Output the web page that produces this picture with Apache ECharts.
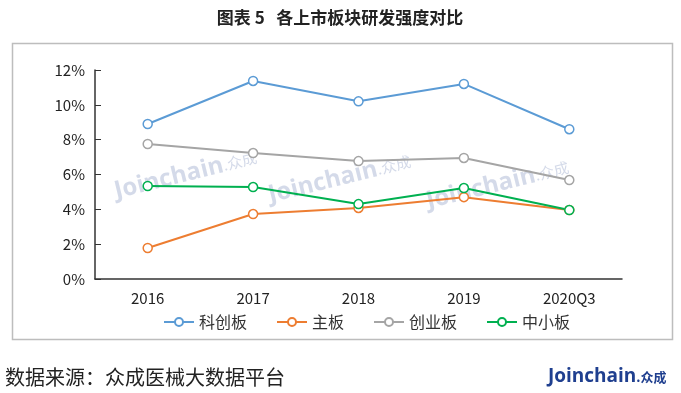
<!DOCTYPE html>
<html>
<head>
<meta charset="utf-8">
<script src="https://cdn.jsdelivr.net/npm/echarts@6/dist/echarts.min.js"></script>
<style>
html,body{margin:0;padding:0;background:#fff;}
#c{width:681px;height:393px;}
</style>
</head>
<body>
<div id="c"></div>
<script>
const categories = ['2016', '2017', '2018', '2019', '2020Q3'];
const seriesNames = ['科创板', '主板', '创业板', '中小板'];
const kechuang = [8.9, 11.37, 10.2, 11.2, 8.6];
const zhuban = [1.78, 3.73, 4.08, 4.7, 3.96];
const chuangye = [7.75, 7.23, 6.77, 6.95, 5.68];
const zhongxiao = [5.34, 5.28, 4.3, 5.22, 3.96];
const yTicks = [0, 2, 4, 6, 8, 10, 12];
const colors = ['#5B9BD5', '#ED7D31', '#A5A5A5', '#00B050'];

const chart = echarts.init(document.getElementById('c'));
const font = '"Noto Sans CJK SC", "Noto Sans", sans-serif';
const mk = (name, data, color) => ({
  name: name, type: 'line', data: data,
  symbol: 'circle', symbolSize: 9,
  lineStyle: {width: 2, color: color},
  itemStyle: {color: '#fff', borderColor: color, borderWidth: 1.5},
  z: 3
});
const wm = (x, y) => ({
  type: 'text', x: x, y: y, rotation: 0.24, z: 1,
  style: {
    text: '{a|Joinchain}{b|.众成}',
    rich: {
      a: {font: 'bold 24px "Open Sans", sans-serif', fill: 'rgba(170,182,212,0.5)', color: 'rgba(170,182,212,0.5)'},
      b: {font: '15px "Noto Sans CJK SC", sans-serif', fill: 'rgba(170,182,212,0.5)', color: 'rgba(170,182,212,0.5)'}
    }
  }
});
chart.setOption({
  animation: false,
  textStyle: {fontFamily: font},
  graphic: [
    {type: 'rect', shape: {x: 12.5, y: 43.5, width: 660, height: 296}, style: {fill: 'none', stroke: '#bdbdbd', lineWidth: 1.5}, z: 0},
    {type: 'text', x: 340, y: 18, style: {text: '图表 5   各上市板块研发强度对比', font: 'bold 17px "Noto Sans CJK SC", serif', fill: '#222', textAlign: 'center', textVerticalAlign: 'middle'}},
    {type: 'text', x: 5, y: 377, style: {text: '数据来源：众成医械大数据平台', font: '20px "Noto Sans CJK SC", serif', fill: '#222', textVerticalAlign: 'middle'}},
    {type: 'text', x: 548, y: 377, style: {
      text: '{a|Joinchain}{b|.众成}', textVerticalAlign: 'middle',
      rich: {
        a: {font: 'bold 19px "Open Sans", sans-serif', fill: '#1F3F8F', color: '#1F3F8F'},
        b: {font: 'bold 13px "Noto Sans CJK SC", sans-serif', fill: '#1F3F8F', color: '#1F3F8F'}
      }
    }},
    wm(112, 180),
    wm(266, 184),
    wm(424, 190)
  ],
  color: colors,
  legend: {
    data: seriesNames, bottom: 58, left: 158, itemGap: 29, itemWidth: 30, itemHeight: 10,
    textStyle: {fontSize: 16, color: '#333', fontFamily: font}
  },
  grid: {left: 95, right: 59, top: 70, bottom: 114, containLabel: false},
  xAxis: {
    type: 'category', data: categories, boundaryGap: true,
    axisLine: {lineStyle: {color: '#333', width: 1.5}},
    axisTick: {show: false},
    axisLabel: {fontSize: 15, color: '#222', margin: 12, fontFamily: font}
  },
  yAxis: {
    type: 'value', min: yTicks[0], max: yTicks[yTicks.length - 1], interval: 2,
    axisLine: {show: true, lineStyle: {color: '#333', width: 1.5}},
    axisTick: {show: true, inside: true, length: 6, lineStyle: {color: '#333'}},
    splitLine: {show: false},
    axisLabel: {fontSize: 15, color: '#222', margin: 10, formatter: v => v + '%', fontFamily: font}
  },
  series: [
    mk(seriesNames[0], kechuang, colors[0]),
    mk(seriesNames[1], zhuban, colors[1]),
    mk(seriesNames[2], chuangye, colors[2]),
    mk(seriesNames[3], zhongxiao, colors[3])
  ]
});
</script>
</body>
</html>
